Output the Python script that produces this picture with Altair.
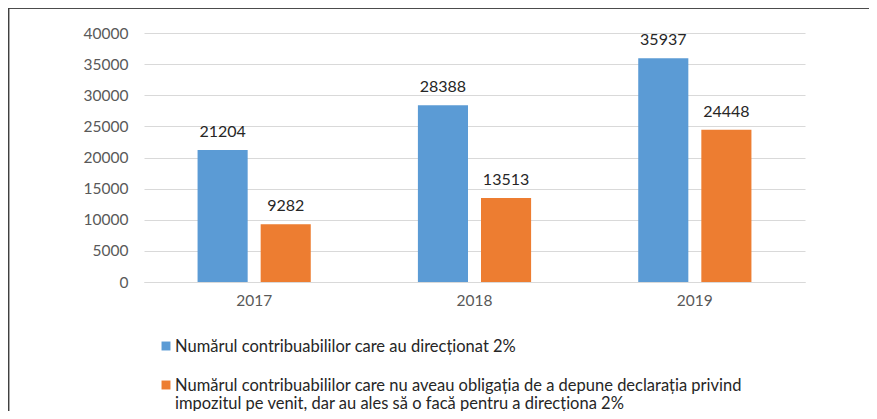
import altair as alt
import pandas as pd

years = ["2017", "2018", "2019"]
series = [
    "Numărul contribuabililor care au direcționat 2%",
    "Numărul contribuabililor care nu aveau obligația de a depune declarația privind impozitul pe venit, dar au ales să o facă pentru a direcționa 2%",
]
legend_lines = [
    "Numărul contribuabililor care au direcționat 2%",
    "Numărul contribuabililor care nu aveau obligația de a depune declarația privind\nimpozitul pe venit, dar au ales să o facă pentru a direcționa 2%",
]
directed = [21204, 28388, 35937]
not_obliged = [9282, 13513, 24448]
colors = ["#5b9bd5", "#ed7d31"]

rows = []
for i, y in enumerate(years):
    rows.append({"year": y, "series": series[0], "value": directed[i]})
    rows.append({"year": y, "series": series[1], "value": not_obliged[i]})
df = pd.DataFrame(rows)
leg = pd.DataFrame({"series": series, "text": legend_lines})

FONT = "Lato"
color_scale = alt.Scale(domain=series, range=colors)

x_enc = alt.X("year:N", scale=alt.Scale(paddingInner=0, paddingOuter=0),
              axis=alt.Axis(title=None, labelAngle=0, labelFontSize=15.5, labelColor="#595959",
                            labelFont=FONT, domainColor="#d9d9d9", ticks=False, labelPadding=11))
xo = alt.XOffset("series:N", scale=alt.Scale(domain=series, paddingInner=0.206, paddingOuter=0.849))
y_enc = alt.Y("value:Q", scale=alt.Scale(domain=[0, 40000]),
              axis=alt.Axis(title=None, values=list(range(0, 40001, 5000)), format="d",
                            labelOverlap=False,
                            labelFontSize=15.5, labelColor="#595959", labelFont=FONT,
                            domain=False, ticks=False, labelPadding=16, gridColor="#d9d9d9"))

base = alt.Chart(df)
bars = base.mark_bar().encode(
    x=x_enc, xOffset=xo, y=y_enc,
    color=alt.Color("series:N", scale=color_scale, legend=None),
)
labels = base.mark_text(baseline="alphabetic", dy=-13, fontSize=16, font=FONT, color="#262626").encode(
    x=x_enc, xOffset=xo, y=y_enc, text=alt.Text("value:Q", format="d")
)
main = alt.layer(bars, labels)

leg_y = alt.Y("series:N", scale=alt.Scale(domain=series, range=[313, 352], padding=0), axis=None)
leg_sq = alt.Chart(leg).mark_square(size=80, opacity=1).encode(
    x=alt.value(22), y=leg_y,
    color=alt.Color("series:N", scale=color_scale, legend=None),
)
leg_txt = alt.Chart(leg).mark_text(align="left", baseline="alphabetic", dy=5.5, fontSize=16.5,
                                   font=FONT, color="#262626", lineBreak="\n", lineHeight=18).encode(
    x=alt.value(31), y=leg_y, text="text:N"
)
frame_top = alt.Chart(leg).mark_rule(color="#404040", strokeWidth=1.5).encode(
    x=alt.value(-136), x2=alt.value(725), y=alt.value(-25)
)
frame_left = alt.Chart(leg).mark_rule(color="#404040", strokeWidth=1.5).encode(
    x=alt.value(-135.5), y=alt.value(-25), y2=alt.value(400)
)
extra = alt.layer(leg_sq, leg_txt, frame_top, frame_left)

chart = alt.layer(main, extra).resolve_scale(
    y="independent"
).properties(
    width=661, height=249,
    autosize=alt.AutoSizeParams(type="none"),
    padding={"left": 136, "top": 25, "right": 64, "bottom": 129},
).configure_view(stroke=None)

chart.save("out.html", embed_options={"renderer": "svg", "actions": False})
